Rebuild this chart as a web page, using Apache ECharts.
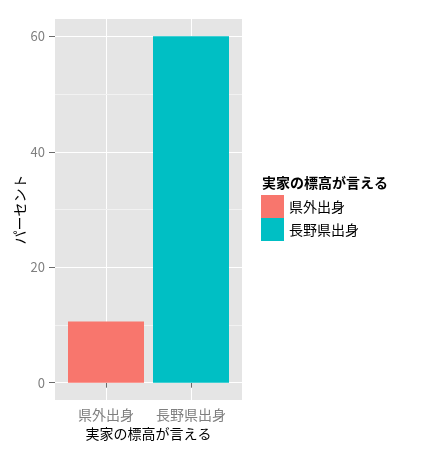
<!DOCTYPE html>
<html>
<head>
<meta charset="utf-8">
<script src="https://cdn.jsdelivr.net/npm/echarts@6/dist/echarts.min.js"></script>
<style>html,body{margin:0;padding:0;background:#fff}#c{width:431px;height:454px}</style>
</head>
<body>
<div id="c"></div>
<script>
const categories = ['県外出身', '長野県出身'];
const values = [10.6, 60];
const yTicks = [0, 20, 40, 60];
const yMinor = [10, 30, 50];
const colors = ['#F8766D', '#00BFC4'];
const legendTitle = '実家の標高が言える';
const xTitle = '実家の標高が言える';
const yTitle = 'パーセント';

const FONT = 'Noto Sans CJK JP';
const chart = echarts.init(document.getElementById('c'));
const xPos = categories.map((c, i) => i + 1);

chart.setOption({
  animation: false,
  textStyle: { fontFamily: FONT },
  grid: {
    left: 55, top: 19, width: 187, height: 381,
    show: true, backgroundColor: '#E5E5E5', borderWidth: 0
  },
  legend: {
    orient: 'vertical', left: 261, top: 195, padding: 0,
    itemWidth: 23, itemHeight: 23, itemGap: 0, icon: 'rect',
    itemStyle: { borderWidth: 0 },
    textStyle: { fontFamily: FONT, fontSize: 14, color: '#000', lineHeight: 23 },
    data: categories
  },
  graphic: [{
    type: 'text', left: 262, top: 176,
    style: { text: legendTitle, fontFamily: FONT, fontSize: 14, fontWeight: 'bold', fill: '#000' }
  }],
  xAxis: {
    type: 'value', min: 0.4, max: 2.6,
    name: xTitle, nameLocation: 'middle', nameGap: 27,
    nameTextStyle: { fontFamily: FONT, fontSize: 14, color: '#000' },
    axisLine: { show: false },
    axisTick: { show: true, customValues: xPos, length: 5, lineStyle: { color: '#6b6b6b' } },
    axisLabel: {
      customValues: xPos, margin: 8,
      fontFamily: FONT, fontSize: 14, color: '#7F7F7F',
      formatter: v => categories[Math.round(v) - 1]
    },
    splitLine: { show: true, lineStyle: { color: '#FFFFFF', width: 1 } }
  },
  yAxis: [{
    type: 'value', min: -3, max: 63,
    name: yTitle, nameLocation: 'middle', nameGap: 25, nameRotate: 90,
    nameTextStyle: { fontFamily: FONT, fontSize: 14, color: '#000' },
    axisLine: { show: false },
    axisTick: { show: true, customValues: yTicks, length: 6, lineStyle: { color: '#6b6b6b' } },
    axisLabel: { customValues: yTicks, margin: 10, fontFamily: FONT, fontSize: 13, color: '#7F7F7F' },
    splitLine: { show: true, lineStyle: { color: '#FFFFFF', width: 1 } },
    z: 2
  }, {
    type: 'value', min: -3, max: 63,
    axisLine: { show: false },
    axisTick: { show: false, customValues: yMinor },
    axisLabel: { show: false, customValues: yMinor },
    splitLine: { show: true, lineStyle: { color: '#F2F2F2', width: 1 } },
    z: 1
  }],
  series: categories.map((c, i) => ({
    name: c, type: 'bar', barWidth: 76, barGap: '-100%',
    itemStyle: { color: colors[i] },
    data: [[xPos[i], values[i]]],
    z: 3
  }))
});
</script>
</body>
</html>
